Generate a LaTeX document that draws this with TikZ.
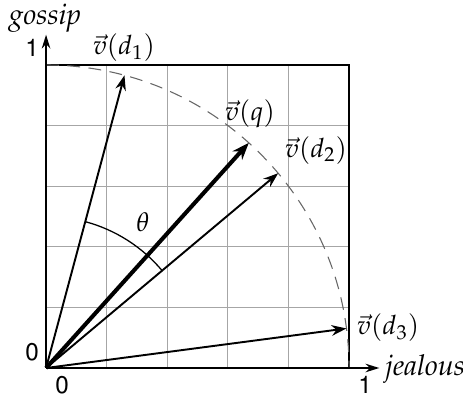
\documentclass[tikz,border=0pt]{standalone}
\usepackage[T1]{fontenc}
\usepackage{mathpazo}
\usepackage[scaled=0.95]{helvet}
\usetikzlibrary{arrows.meta}
\begin{document}
\begin{tikzpicture}[x=5cm,y=5cm,
  vec/.style={-{Stealth[length=7pt,width=5pt]}, line width=0.9pt},
  axis/.style={-{Stealth[length=6.5pt,width=4pt]}, line width=0.9pt},
  lbl/.style={font=\fontsize{12.5}{14}\selectfont, inner sep=0pt},
  txt/.style={font=\fontsize{13.5}{15}\selectfont, inner sep=0pt},
  num/.style={font=\sffamily\fontsize{12}{14}\selectfont, inner sep=0pt}]
\useasboundingbox (-0.152,-0.0957) rectangle (1.376,1.2145);
\draw[black!35, line width=0.5pt] (0,0) grid[step=0.2] (1,1);
\draw[line width=0.9pt] (0,1) -- (1,1) -- (1,0);
\draw[black!60, dash pattern=on 6pt off 4pt, line width=0.5pt] (90:1) arc[start angle=90, end angle=0, radius=1];
\coordinate (O) at (0,0);
\coordinate (xe) at (1.1,0);
\coordinate (ye) at (0,1.1);
\draw[axis] (O) -- (xe);
\draw[axis] (O) -- (ye);
\coordinate (d1) at (75:1);
\coordinate (q) at (48:1);
\coordinate (d2) at (40:1);
\coordinate (d3) at (7.5:1);
\draw[vec] (O) -- (d1);
\draw[vec] (O) -- (d2);
\draw[vec] (O) -- (d3);
\draw[vec, line width=1.9pt, -{Stealth[length=8pt,width=6pt]}] (O) -- (q);
\coordinate (t1) at (40:0.5);
\draw[line width=0.6pt] (t1) arc[start angle=40, end angle=75, radius=0.5];
\node[lbl] (th) at (0.32,0.48) {$\theta$};
\node[lbl] (ld1) at (0.257,1.056) {$\vec{v}(d_1)$};
\node[lbl] (lq) at (0.673,0.838) {$\vec{v}(q)$};
\node[lbl] (ld2) at (0.891,0.719) {$\vec{v}(d_2)$};
\node[lbl] (ld3) at (1.129,0.132) {$\vec{v}(d_3)$};
\node[txt] (gos) at (-0.003,1.155) {\textit{gossip}};
\node[txt] (jea) at (1.251,-0.003) {\textit{jealous}};
\node[num] (y1) at (-0.046,1.056) {1};
\node[num] (y0) at (-0.046,0.053) {0};
\node[num] (x0) at (0.053,-0.056) {0};
\node[num] (x1) at (1.053,-0.056) {1};
\end{tikzpicture}
\end{document}
